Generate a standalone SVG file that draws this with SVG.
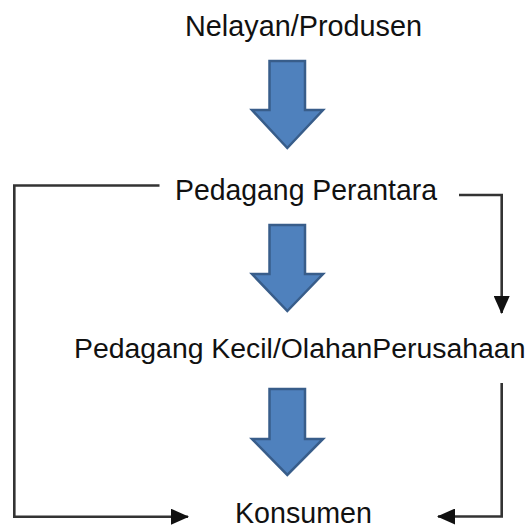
<svg xmlns="http://www.w3.org/2000/svg" width="532" height="528" viewBox="0 0 532 528">
<style>
.lbl{font-family:"Liberation Sans",Arial,sans-serif;font-size:29px;fill:#111;}
.blk{fill:#4F81BD;stroke:#385D8A;stroke-width:2.5;stroke-linejoin:miter;}
.con{fill:none;stroke:#333;stroke-width:2.6;}
</style>
<defs>
<marker id="ah" viewBox="0 0 18 16" refX="17" refY="8" markerWidth="18" markerHeight="16" markerUnits="userSpaceOnUse" orient="auto">
<path d="M0,0 L18,8 L0,16 Z" fill="#111"/>
</marker>
</defs>
<rect width="532" height="528" fill="#fff"/>
<g id="node-nelayan"><text class="lbl" x="185" y="36" textLength="237" lengthAdjust="spacingAndGlyphs">Nelayan/Produsen</text></g>
<g id="node-perantara"><text class="lbl" x="175" y="200" textLength="262" lengthAdjust="spacingAndGlyphs">Pedagang Perantara</text></g>
<g id="node-kecil"><text class="lbl" x="74" y="358" style="font-size:28.4px">Pedagang Kecil/OlahanPerusahaan</text></g>
<g id="node-konsumen"><text class="lbl" x="235" y="523" textLength="137" lengthAdjust="spacingAndGlyphs">Konsumen</text></g>
<g id="block-arrows">
<path class="blk" d="M269.5,61 H305 V110 H323 L287.3,148 L252,110 H269.5 Z"/>
<path class="blk" d="M269.5,225 H305 V274 H323 L287.3,311 L252,274 H269.5 Z"/>
<path class="blk" d="M269.5,389 H305 V439 H323 L287.3,475 L252,439 H269.5 Z"/>
</g>
<g id="connectors">
<path class="con" d="M159.5,185.5 H14.3 V516.7 H188" marker-end="url(#ah)"/>
<path class="con" d="M459,195 H501.7 V313" marker-end="url(#ah)"/>
<path class="con" d="M501.7,383 V516.5 H438" marker-end="url(#ah)"/>
</g>
</svg>
